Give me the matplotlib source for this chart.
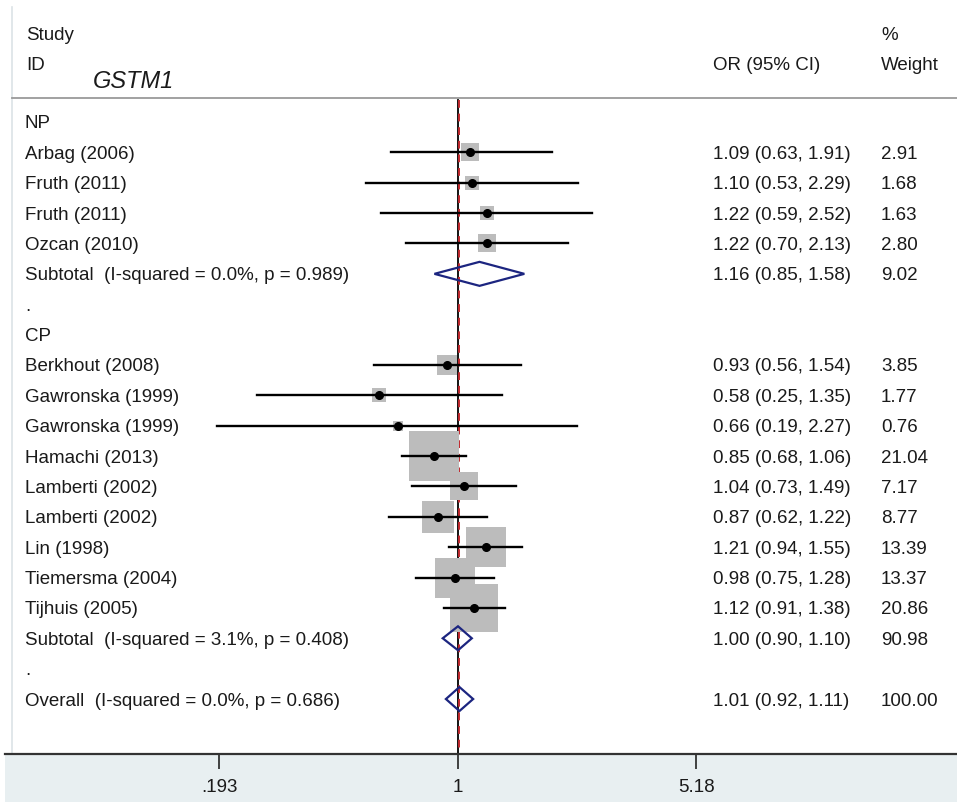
import numpy as np
import matplotlib.pyplot as plt
from matplotlib.transforms import blended_transform_factory
from matplotlib.patches import Polygon, Rectangle

plt.rcParams['font.family'] = ['Liberation Sans', 'DejaVu Sans']

# rows of the forest plot, top to bottom
labels = ["NP", "Arbag (2006)", "Fruth (2011)", "Fruth (2011)", "Ozcan (2010)",
          "Subtotal  (I-squared = 0.0%, p = 0.989)", ".", "CP",
          "Berkhout (2008)", "Gawronska (1999)", "Gawronska (1999)", "Hamachi (2013)",
          "Lamberti (2002)", "Lamberti (2002)", "Lin (1998)", "Tiemersma (2004)",
          "Tijhuis (2005)", "Subtotal  (I-squared = 3.1%, p = 0.408)", ".",
          "Overall  (I-squared = 0.0%, p = 0.686)"]
kind = ["group", "study", "study", "study", "study", "pooled", "blank", "group",
        "study", "study", "study", "study", "study", "study", "study", "study",
        "study", "pooled", "blank", "pooled"]
est = [None, 1.09, 1.10, 1.22, 1.22, 1.16, None, None,
       0.93, 0.58, 0.66, 0.85, 1.04, 0.87, 1.21, 0.98, 1.12, 1.00, None, 1.01]
lo = [None, 0.63, 0.53, 0.59, 0.70, 0.85, None, None,
      0.56, 0.25, 0.19, 0.68, 0.73, 0.62, 0.94, 0.75, 0.91, 0.90, None, 0.92]
hi = [None, 1.91, 2.29, 2.52, 2.13, 1.58, None, None,
      1.54, 1.35, 2.27, 1.06, 1.49, 1.22, 1.55, 1.28, 1.38, 1.10, None, 1.11]
weight = [None, 2.91, 1.68, 1.63, 2.80, 9.02, None, None,
          3.85, 1.77, 0.76, 21.04, 7.17, 8.77, 13.39, 13.37, 20.86, 90.98, None, 100.00]
overall_or = 1.01

xticks = [0.193, 1, 5.18]
xticklabels = [".193", "1", "5.18"]

W, H = 957, 802
ROW0_PX, ROW_PX = 122, 30.37      # pixel y of first row, row spacing
X_ONE, PX_LN = 458, 145.0         # pixel x of OR=1, pixels per log unit
AXIS_PX = 754
FS = 13.5


def row_of(py):
    return (py - ROW0_PX) / ROW_PX


def x_of(px):
    return np.exp((px - X_ONE) / PX_LN)


fig = plt.figure(figsize=(W / 100, H / 100), dpi=100)
ax = fig.add_axes([0, 0, 1, 1])
ax.set_xscale('log')
ax.set_xlim(x_of(0), x_of(W))
ax.set_ylim(row_of(H), row_of(0))
for s in ['top', 'left', 'right']:
    ax.spines[s].set_visible(False)
ax.set_yticks([])

tr = blended_transform_factory(ax.transAxes, ax.transData)
txt = dict(fontsize=FS, color='#1a1a1a', va='center_baseline', transform=tr)

# bottom band under the axis
ax.add_patch(Rectangle((5 / W, row_of(AXIS_PX)), 1, row_of(H) - row_of(AXIS_PX),
                       transform=tr, facecolor='#e8eff1', edgecolor='none', zorder=0))
ax.plot([12 / W, 12 / W], [row_of(7), row_of(AXIS_PX)], transform=tr,
        color='#dce3e6', lw=1.2, zorder=0)

# header
ax.text(26 / W, row_of(34), "Study", **txt)
ax.text(26 / W, row_of(63), "ID", **txt)
ax.text(93 / W, row_of(79), "GSTM1", fontsize=17, style='italic',
        color='#1a1a1a', va='center_baseline', transform=tr)
ax.text(713 / W, row_of(63), "OR (95% CI)", **txt)
ax.text(881 / W, row_of(34), "%", **txt)
ax.text(881 / W, row_of(63), "Weight", **txt)
ax.plot([12 / W, 1], [row_of(98), row_of(98)], transform=tr, color='#9a9a9a', lw=1.3)

# reference lines: null effect and overall estimate
ax.plot([1, 1], [row_of(100), row_of(AXIS_PX)], color='black', lw=1.3, zorder=2)
ax.plot([overall_or, overall_or], [row_of(100), row_of(AXIS_PX)], color='#c0282d',
        lw=1.4, ls=(0, (4, 3)), zorder=2)

for i, lab in enumerate(labels):
    ax.text(25 / W, i, lab, **txt)
    if est[i] is None:
        continue
    ax.text(713 / W, i, f"{est[i]:.2f} ({lo[i]:.2f}, {hi[i]:.2f})", **txt)
    ax.text(881 / W, i, f"{weight[i]:.2f}", **txt)
    if kind[i] == "study":
        side = 10.7 * np.sqrt(weight[i]) * 0.72
        ax.scatter([est[i]], [i], marker='s', s=side ** 2, color='#bcbcbc',
                   linewidths=0, zorder=3)
        ax.plot([lo[i], hi[i]], [i, i], color='black', lw=1.7, zorder=4)
        ax.plot([est[i]], [i], 'o', color='black', ms=5.5, zorder=5)
    else:
        h = 12 / ROW_PX
        ax.add_patch(Polygon([(lo[i], i), (est[i], i - h), (hi[i], i), (est[i], i + h)],
                             closed=True, fill=False, edgecolor='#1c2580', lw=1.6, zorder=5))

# x axis
ax.spines['bottom'].set_position(('data', row_of(AXIS_PX)))
ax.spines['bottom'].set_bounds(x_of(5), x_of(W))
ax.spines['bottom'].set_linewidth(1.6)
ax.spines['bottom'].set_color('#333333')
ax.set_xticks(xticks)
ax.set_xticklabels(xticklabels)
ax.minorticks_off()
ax.tick_params(axis='x', direction='out', length=11, width=1.3, color='#333333',
               pad=7, labelsize=FS, labelcolor='#1a1a1a')

fig.savefig('out.png', dpi=100)
